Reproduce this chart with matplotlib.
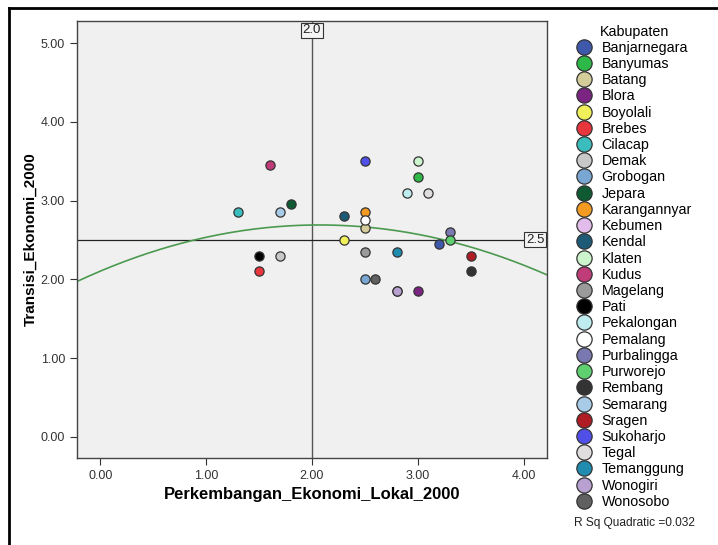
import numpy as np
import matplotlib.pyplot as plt
from matplotlib.lines import Line2D

plt.rcParams['font.family'] = ['Liberation Sans', 'DejaVu Sans']

# data
kabupaten = ['Banjarnegara', 'Banyumas', 'Batang', 'Blora', 'Boyolali', 'Brebes',
             'Cilacap', 'Demak', 'Grobogan', 'Jepara', 'Karangannyar', 'Kebumen',
             'Kendal', 'Klaten', 'Kudus', 'Magelang', 'Pati', 'Pekalongan',
             'Pemalang', 'Purbalingga', 'Purworejo', 'Rembang', 'Semarang',
             'Sragen', 'Sukoharjo', 'Tegal', 'Temanggung', 'Wonogiri', 'Wonosobo']
ekonomi_lokal = [3.2, 3.0, 2.5, 3.0, 2.3, 1.5,
                 1.3, 1.7, 2.5, 1.8, 2.5, 2.8,
                 2.3, 3.0, 1.6, 2.5, 1.5, 2.9,
                 2.5, 3.3, 3.3, 3.5, 1.7,
                 3.5, 2.5, 3.1, 2.8, 2.8, 2.6]
transisi = [2.45, 3.3, 2.65, 1.85, 2.5, 2.1,
            2.85, 2.3, 2.0, 2.95, 2.85, 1.85,
            2.8, 3.5, 3.45, 2.35, 2.3, 3.1,
            2.75, 2.6, 2.5, 2.1, 2.85,
            2.3, 3.5, 3.1, 2.35, 1.85, 2.0]
warna = ['#3E58AC', '#2EB848', '#D4CC99', '#7B2482', '#F0F05A', '#E8363C',
         '#3CBDBD', '#C8C8C8', '#7AA6D4', '#0F5A32', '#F39A22', '#E2BDEB',
         '#1D5A78', '#CDF5CD', '#C03C78', '#9A9A9A', '#000000', '#BFECEF',
         '#FFFFFF', '#7A78B0', '#5ED070', '#333333', '#A8CCE8',
         '#B01C24', '#5050E8', '#E0DEDE', '#208CB0', '#B8A0D0', '#606060']

# quadratic fit line as drawn in the chart (a*x^2 + b*x + c)
fit_coef = [-0.137, 0.567, 2.103]
r_sq = 0.032

ref_x = 2.0
ref_y = 2.5

fig = plt.figure(figsize=(7.18, 5.45), dpi=100)
ax = fig.add_axes([0.1072, 0.1596, 0.6546, 0.8019])
ax.set_facecolor('#F0F0F0')

for i, nama in enumerate(kabupaten):
    ax.scatter(ekonomi_lokal[i], transisi[i], s=44, color=warna[i],
               edgecolors='#333333', linewidths=0.9, zorder=3)

xlim = (-0.22, 4.22)
ylim = (-0.27, 5.28)

xs = np.linspace(xlim[0], xlim[1], 200)
ax.plot(xs, np.polyval(fit_coef, xs), color='#4C9A50', lw=1.2, zorder=2)

ax.axvline(ref_x, color='#555555', lw=1.0, zorder=1)
ax.axhline(ref_y, color='#222222', lw=0.9, zorder=1)
ax.text(ref_x, ylim[1] - 0.04, '2.0', ha='center', va='top', fontsize=9.5, color='#222222',
        bbox=dict(boxstyle='square,pad=0.12', fc='#F4F4F4', ec='#333333', lw=0.8), zorder=4)
ax.text(xlim[1] - 0.025, ref_y, '2.5', ha='right', va='center', fontsize=9.5, color='#222222',
        bbox=dict(boxstyle='square,pad=0.12', fc='#F4F4F4', ec='#333333', lw=0.8), zorder=4)

ax.set_xlim(xlim)
ax.set_ylim(ylim)
ax.set_xticks([0, 1, 2, 3, 4])
ax.set_xticklabels(['0.00', '1.00', '2.00', '3.00', '4.00'])
ax.set_yticks([0, 1, 2, 3, 4, 5])
ax.set_yticklabels(['0.00', '1.00', '2.00', '3.00', '4.00', '5.00'])
ax.tick_params(labelsize=9, colors='#333333', length=5, width=0.8)
for s in ax.spines.values():
    s.set_color('#444444')
    s.set_linewidth(1.0)

ax.set_xlabel('Perkembangan_Ekonomi_Lokal_2000', fontsize=12, fontweight='bold', labelpad=4)
ax.set_ylabel('Transisi_Ekonomi_2000', fontsize=11, fontweight='bold', labelpad=2)

handles = [Line2D([], [], marker='o', ls='', markersize=11, markerfacecolor=c,
                  markeredgecolor='#333333', markeredgewidth=0.9) for c in warna]
fig.legend(handles, kabupaten, title='Kabupaten', loc='upper left',
           bbox_to_anchor=(0.803, 0.955), frameon=False, fontsize=10.3,
           title_fontsize=10.3, handletextpad=0.65, labelspacing=0.155,
           borderaxespad=0, handlelength=1.1, borderpad=0)

fig.text(0.8, 0.035, 'R Sq Quadratic =%.3f' % r_sq, fontsize=8.6, color='#222222')

# outer frame lines (top and left)
fig.add_artist(Line2D([0.012, 1.0], [0.985, 0.985], color='black', lw=2))
fig.add_artist(Line2D([0.013, 0.013], [0.0, 0.985], color='black', lw=2))

fig.savefig('out.png', dpi=100)
